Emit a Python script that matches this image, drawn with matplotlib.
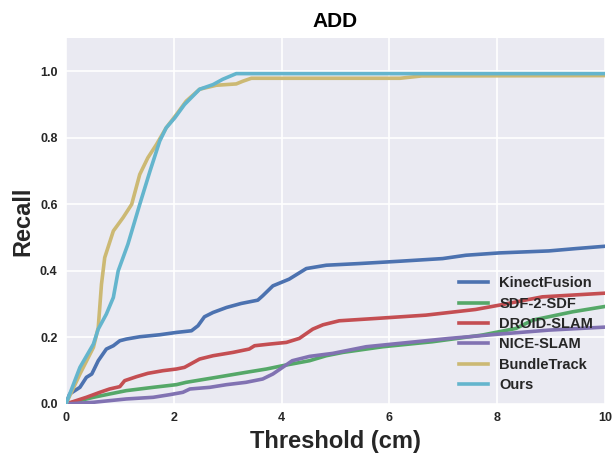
import matplotlib
matplotlib.use("Agg")
import matplotlib.pyplot as plt

# --- data ---
kf_x = [0, 0.07, 0.26, 0.38, 0.48, 0.6, 0.75, 0.88, 1.0, 1.12, 1.37, 1.74, 2.05, 2.33, 2.45, 2.57,
        2.73, 2.98, 3.25, 3.56, 3.65, 3.84, 4.14, 4.46, 4.83, 5.44, 6.19, 6.99, 7.42, 8.04, 8.96, 9.46, 10.0]
kf_y = [0, 0.03, 0.05, 0.08, 0.09, 0.13, 0.165, 0.175, 0.19, 0.195, 0.202, 0.208, 0.215, 0.22, 0.235, 0.262,
        0.275, 0.29, 0.302, 0.312, 0.325, 0.355, 0.375, 0.407, 0.417, 0.422, 0.429, 0.437, 0.447, 0.454, 0.46, 0.467, 0.474]

sdf_x = [0, 0.51, 0.81, 1.12, 1.62, 2.05, 2.23, 2.79, 3.34, 3.72, 4.02, 4.52, 4.83, 5.14, 5.88,
         6.8, 7.72, 8.35, 8.66, 9.4, 10.0]
sdf_y = [0, 0.02, 0.03, 0.04, 0.05, 0.058, 0.065, 0.08, 0.095, 0.105, 0.115, 0.13, 0.145, 0.155, 0.172,
         0.187, 0.207, 0.227, 0.252, 0.277, 0.293]

droid_x = [0, 0.38, 0.63, 0.81, 1.0, 1.09, 1.31, 1.52, 1.8, 2.05, 2.2, 2.48, 2.73, 3.1, 3.4, 3.5,
           3.78, 4.09, 4.33, 4.58, 4.77, 5.07, 5.75, 6.68, 7.6, 8.04, 8.84, 10.0]
droid_y = [0, 0.02, 0.035, 0.045, 0.052, 0.07, 0.082, 0.092, 0.1, 0.105, 0.11, 0.135, 0.145, 0.155, 0.165, 0.175,
           0.18, 0.185, 0.197, 0.225, 0.238, 0.25, 0.257, 0.267, 0.284, 0.297, 0.322, 0.333]

nice_x = [0, 0.51, 1.12, 1.62, 1.93, 2.17, 2.3, 2.67, 2.98, 3.34, 3.65, 3.84, 4.02, 4.2, 4.52,
          4.95, 5.57, 6.49, 7.11, 8.04, 8.96, 10.0]
nice_y = [0, 0.005, 0.015, 0.02, 0.028, 0.035, 0.045, 0.05, 0.058, 0.065, 0.075, 0.09, 0.11, 0.13, 0.143,
          0.152, 0.172, 0.187, 0.197, 0.21, 0.222, 0.231]

bt_x = [0, 0.26, 0.51, 0.6, 0.66, 0.72, 0.88, 1.06, 1.22, 1.37, 1.52, 1.68, 1.86, 2.05, 2.23,
        2.48, 2.79, 3.16, 3.28, 3.44, 6.2, 6.6, 10.0]
bt_y = [0, 0.09, 0.17, 0.23, 0.36, 0.44, 0.52, 0.56, 0.60, 0.69, 0.74, 0.78, 0.83, 0.87, 0.91,
        0.946, 0.958, 0.962, 0.97, 0.979, 0.979, 0.986, 0.987]

ours_x = [0, 0.26, 0.51, 0.6, 0.75, 0.88, 0.97, 1.15, 1.37, 1.56, 1.74, 1.86, 2.02, 2.2, 2.48,
          2.73, 2.91, 3.16, 10.0]
ours_y = [0, 0.11, 0.18, 0.225, 0.27, 0.32, 0.40, 0.48, 0.60, 0.70, 0.79, 0.83, 0.86, 0.90, 0.946,
          0.96, 0.976, 0.993, 0.993]

series = [
    ("KinectFusion", kf_x, kf_y, "#4C72B0"),
    ("SDF-2-SDF", sdf_x, sdf_y, "#55A868"),
    ("DROID-SLAM", droid_x, droid_y, "#C44E52"),
    ("NICE-SLAM", nice_x, nice_y, "#8172B2"),
    ("BundleTrack", bt_x, bt_y, "#CCB974"),
    ("Ours", ours_x, ours_y, "#64B5CD"),
]

plt.rcParams['font.family'] = ['Liberation Sans', 'DejaVu Sans']
plt.rcParams['font.weight'] = 'bold'

fig = plt.figure(figsize=(6.16, 4.58), dpi=100)
ax = fig.add_axes([0.107, 0.118, 0.875, 0.799])
ax.set_facecolor('#EAEAF2')
for s in ax.spines.values():
    s.set_visible(False)
ax.grid(True, color='white', linewidth=1.2)
ax.set_axisbelow(True)

for name, xs, ys, c in series:
    ax.plot(xs, ys, color=c, linewidth=2.6, label=name)

ax.set_xlim(0, 10)
ax.set_ylim(0, 1.1)
ax.set_xticks([0, 2, 4, 6, 8, 10])
ax.set_yticks([0.0, 0.2, 0.4, 0.6, 0.8, 1.0])
ax.set_yticklabels(['0.0', '0.2', '0.4', '0.6', '0.8', '1.0'])
ax.tick_params(length=0, labelsize=9, colors='#262626', pad=6)
for lab in ax.get_xticklabels() + ax.get_yticklabels():
    lab.set_fontweight('bold')

ax.set_title('ADD', fontsize=15, fontweight='bold', pad=8)
ax.set_xlabel('Threshold (cm)', fontsize=17, fontweight='bold', color='#262626')
ax.set_ylabel('Recall', fontsize=17, fontweight='bold', color='#262626')

leg = ax.legend(loc='lower right', frameon=False, handlelength=2.0,
                labelspacing=0.44, borderaxespad=0.4,
                prop={'weight': 'bold', 'size': 10.5})
for t in leg.get_texts():
    t.set_color('#262626')

fig.savefig('out.png', dpi=100)
